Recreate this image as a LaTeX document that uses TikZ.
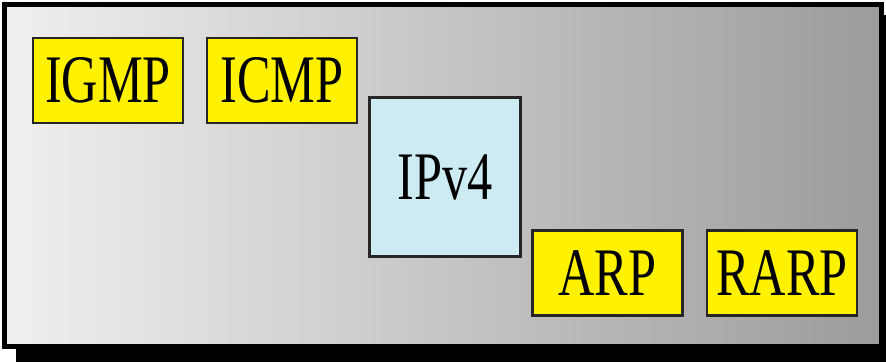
\documentclass[tikz,border=0pt]{standalone}
\usepackage{fontspec}
\newfontfamily\boxfont[FakeStretch=0.74]{Liberation Serif}
\begin{document}
\begin{tikzpicture}[x=1pt,y=-1pt,
  proto/.style={draw=black!85,line width=2.5pt,inner sep=0pt,
    font=\boxfont\fontsize{68}{68}\selectfont,text=black},
  ybox/.style={proto,fill=yellow,minimum width=150pt,minimum height=85pt},
  bbox/.style={proto,fill=ipblue,minimum width=151pt,minimum height=159pt}]
\definecolor{ipblue}{HTML}{CCEBF2}
\useasboundingbox (0,0) rectangle (886,362);
\fill[black] (16,15) rectangle (886,362);
\shade[left color=black!6,right color=black!39] (4.5,4.5) rectangle (881.5,346.5);
\draw[black,line width=5pt] (4.5,4.5) rectangle (881.5,346.5);
\node[ybox] (igmp) at (108,80.5) {IGMP};
\node[ybox] (icmp) at (282,80.5) {ICMP};
\node[bbox] (ipv4) at (445,177) {IPv4};
\node[ybox] (arp) at (607.5,273) {ARP};
\node[ybox] (rarp) at (782,273) {RARP};
\end{tikzpicture}
\end{document}
